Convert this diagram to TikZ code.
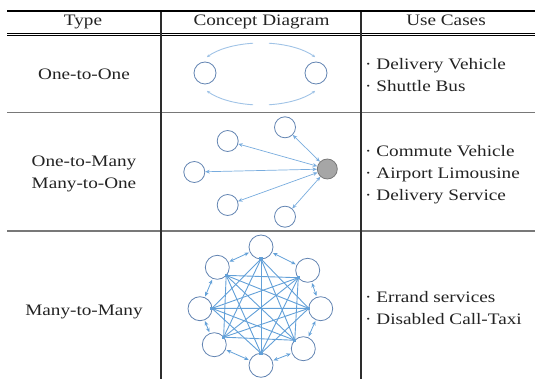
\documentclass[tikz,border=0pt]{standalone}
\usepackage{fontspec}
\setmainfont{Liberation Serif}[FakeStretch=1.2]
\usetikzlibrary{arrows.meta,calc}

\definecolor{ink}{RGB}{35,35,35}
\definecolor{rowrule}{RGB}{120,120,120}
\definecolor{colrule}{RGB}{45,45,45}
\definecolor{nodeedge}{RGB}{98,132,178}
\definecolor{linkdark}{RGB}{98,160,216}
\definecolor{linklight}{RGB}{120,172,222}
\definecolor{arcblue}{RGB}{160,195,230}
\definecolor{hubfill}{RGB}{166,166,166}
\definecolor{hubedge}{RGB}{120,120,120}

\begin{document}
\begin{tikzpicture}[x=1pt,y=-1pt,
  cell/.style={font=\fontsize{16}{19}\selectfont, text=ink, inner sep=0pt, anchor=base},
  usecase/.style={cell, anchor=base west},
  stop/.style={circle, draw=nodeedge, line width=0.8pt, fill=white, inner sep=0pt},
  stopA/.style={stop, minimum size=22pt},
  stopB/.style={stop, minimum size=21pt},
  stopC/.style={stop, minimum size=24pt},
  hub/.style={circle, draw=hubedge, line width=0.8pt, fill=hubfill, inner sep=0pt, minimum size=20pt},
  loop/.style={draw=arcblue, line width=0.9pt, -{Stealth[length=3pt,width=3pt]}},
  spoke/.style={draw=linklight, line width=0.7pt, {Stealth[length=4.5pt,width=3.8pt]}-{Stealth[length=4.5pt,width=3.8pt]}},
  ring/.style={draw=linkdark, line width=0.8pt, shorten <=1pt, shorten >=1pt, {Stealth[length=4.5pt,width=3.8pt]}-{Stealth[length=4.5pt,width=3.8pt]}},
  mesh/.style={draw=linkdark, line width=0.9pt},
  port/.style={rectangle, fill=linkdark, inner sep=0pt, minimum size=3.2pt}
]
\useasboundingbox (0,0) rectangle (535,379);

% ---- table rules ----
\draw[black, line width=2.5pt] (7,10.8) -- (535,10.8);
\draw[black, line width=0.9pt] (7,33.4) -- (535,33.4);
\draw[black, line width=0.9pt] (7,35.9) -- (535,35.9);
\draw[rowrule, line width=1.6pt] (7,112.7) -- (535,112.7);
\draw[rowrule, line width=1.6pt] (7,231.3) -- (535,231.3);
\draw[colrule, line width=1.8pt] (161,12) -- (161,379);
\draw[colrule, line width=1.8pt] (361,12) -- (361,379);

% ---- header ----
\node[cell] (hType) at (83,26) {Type};
\node[cell] (hDiag) at (261.5,26) {Concept Diagram};
\node[cell] (hUse) at (446,26) {Use Cases};

% ---- type column ----
\node[cell] (t1) at (84,79.5) {One-to-One};
\node[cell] (t2a) at (84,166.5) {One-to-Many};
\node[cell] (t2b) at (84,188.5) {Many-to-One};
\node[cell] (t3) at (84,315) {Many-to-Many};

% ---- use cases ----
\node[usecase] (u1a) at (365,69.5) {· Delivery Vehicle};
\node[usecase] (u1b) at (365,91.5) {· Shuttle Bus};
\node[usecase] (u2a) at (365,156.5) {· Commute Vehicle};
\node[usecase] (u2b) at (365,178.5) {· Airport Limousine};
\node[usecase] (u2c) at (365,200.5) {· Delivery Service};
\node[usecase] (u3a) at (365,302.5) {· Errand services};
\node[usecase] (u3b) at (365,324.5) {· Disabled Call-Taxi};

% ---- one-to-one: two stops joined by a split loop ----
\node[stopA] (oL) at (205,73) {};
\node[stopA] (oR) at (316,73) {};
\coordinate (oc) at (261,74);
\coordinate (tg1) at ($(oc)+(263:64.5 and 31)$);
\coordinate (tg2) at ($(oc)+(277:64.5 and 31)$);
\coordinate (bg1) at ($(oc)+(97:64.5 and 31)$);
\coordinate (bg2) at ($(oc)+(83:64.5 and 31)$);
\draw[loop] (tg1) arc[start angle=263, end angle=213, x radius=64.5, y radius=31];
\draw[loop] (tg2) arc[start angle=277, end angle=327, x radius=64.5, y radius=31];
\draw[loop] (bg1) arc[start angle=97, end angle=147, x radius=64.5, y radius=31];
\draw[loop] (bg2) arc[start angle=83, end angle=33, x radius=64.5, y radius=31];

% ---- one-to-many: hub with five spokes ----
\node[hub] (g) at (327.3,169) {};
\node[stopB] (s1) at (285,127.3) {};
\node[stopB] (s2) at (227.7,141) {};
\node[stopB] (s3) at (194.3,172) {};
\node[stopB] (s4) at (227.7,205) {};
\node[stopB] (s5) at (285,216.7) {};
\foreach \k in {1,...,5} \draw[spoke] (g) -- (s\k);

% ---- many-to-many: eight stops, fully meshed ----
\coordinate (mc) at (261,307);
\foreach \n/\x/\y in {1/261/247, 2/307.7/270.3, 3/320.7/308.7, 4/303.3/348.7,
                      5/261/365.3, 6/214.3/344.7, 7/200/308.7, 8/217.3/267.3}
  \node[stopC] (m\n) at (\x,\y) {};
\foreach \n in {1,...,8} \coordinate (p\n) at ($(m\n)!12pt!(mc)$);
\foreach \i/\j in {1/3,1/4,1/5,1/6,1/7,2/4,2/5,2/6,2/7,2/8,
                   3/5,3/6,3/7,3/8,4/6,4/7,4/8,5/7,5/8,6/8}
  \draw[mesh] (p\i) -- (p\j);
\foreach \n in {1,...,8} \node[port] (d\n) at (p\n) {};
\foreach \i/\j in {1/2,2/3,3/4,4/5,5/6,6/7,7/8,8/1}
  \draw[ring] (m\i) -- (m\j);
\end{tikzpicture}
\end{document}
